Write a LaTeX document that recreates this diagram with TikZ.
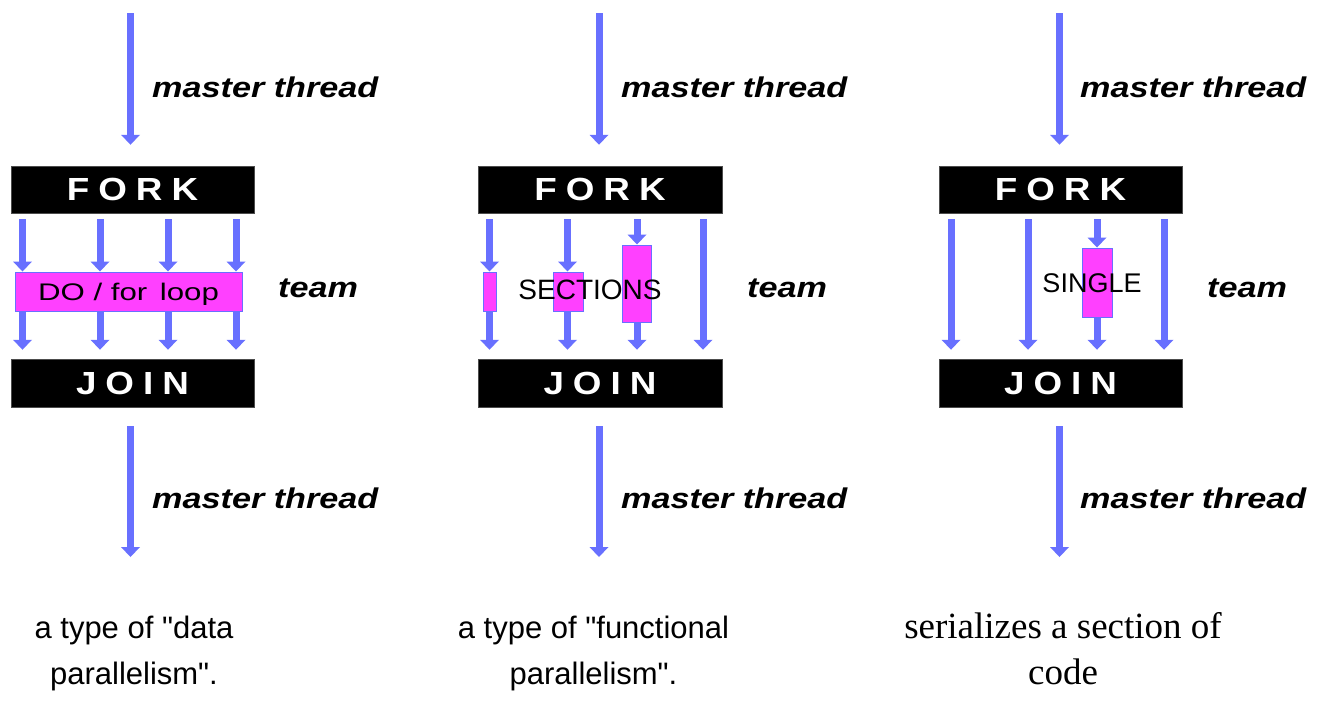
\documentclass[tikz,border=0pt]{standalone}
\usepackage{fontspec}
\setmainfont{Liberation Serif}
\setsansfont{Liberation Sans}
\newfontfamily\capfont{Liberation Sans}
\newfontfamily\lblfont[FakeStretch=1.2]{Liberation Sans}
\newfontfamily\forkfont[FakeStretch=1.15]{Liberation Sans}
\newfontfamily\dofont[FakeStretch=1.3]{Liberation Sans}
\usetikzlibrary{arrows.meta}
\definecolor{thrblue}{RGB}{104,112,255}
\definecolor{secmag}{RGB}{255,64,255}
\newcommand{\gap}{\hspace{9pt}}
\begin{document}
\begin{tikzpicture}[x=1pt,y=-1pt,
  thr/.style={draw=thrblue,line width=7pt,-{Triangle[width=19pt,length=10pt,line width=0pt]}},
  forkbox/.style={fill=black,draw=black!70,line width=0.5pt,text=white,minimum width=243pt,minimum height=47pt,inner sep=0pt,font=\fontsize{32}{32}\selectfont\forkfont\bfseries},
  workbox/.style={fill=secmag,draw=thrblue,line width=1pt,inner sep=0pt},
  mlabel/.style={font=\fontsize{28.5}{30}\selectfont\lblfont\bfseries\itshape,anchor=base west,inner sep=0pt},
  caption/.style={font=\fontsize{31}{46}\selectfont\capfont,align=center,anchor=north,inner sep=0pt},
  sercap/.style={font=\fontsize{37}{46}\selectfont\rmfamily,align=center,anchor=north,inner sep=0pt},
  sectext/.style={font=\fontsize{28}{30}\selectfont\sffamily,inner sep=0pt}
]
\fill[white] (0,0) rectangle (1318,704);
\useasboundingbox (0,0) rectangle (1318,704);

% ---------------- Panel 1 ----------------
\node[forkbox] (fork1) at (132.5,189.5) {F\gap O\gap R\gap K};
\node[forkbox,minimum height=48pt] (join1) at (132.5,383) {J\gap O\gap I\gap N};
\node[workbox,minimum width=227pt,minimum height=39pt,text depth=0pt,font=\fontsize{24}{26}\selectfont\dofont] (do1) at (128.5,291.5) {DO / for\, loop};
\coordinate (c11) at (22.5,0);
\coordinate (c12) at (100,0);
\coordinate (c13) at (168,0);
\coordinate (c14) at (236,0);
\foreach \c in {c11,c12,c13,c14}{
  \draw[thr,shorten <=6pt] (fork1.south -| \c) -- (do1.north -| \c);
  \draw[thr,shorten >=9pt] (do1.south -| \c) -- (join1.north -| \c);
}
\coordinate (mt1) at (130.5,13);
\coordinate (mb1) at (130.5,557);
\draw[thr,shorten >=21pt] (mt1) -- (fork1.north -| mt1);
\draw[thr,shorten <=19pt] (join1.south -| mb1) -- (mb1);
\node[mlabel] (mtl1) at (152,97) {master thread};
\node[mlabel] (mbl1) at (152,508) {master thread};
\node[mlabel] (team1) at (278,297) {team};
\node[caption] (cap1) at (134,615.5) {a type of "data\\parallelism".};

% ---------------- Panel 2 ----------------
\node[forkbox,minimum width=244pt] (fork2) at (600,189.5) {F\gap O\gap R\gap K};
\node[forkbox,minimum width=244pt,minimum height=48pt] (join2) at (600,383) {J\gap O\gap I\gap N};
\node[workbox,minimum width=13pt,minimum height=39pt] (sa) at (489.5,291.5) {};
\node[workbox,minimum width=30pt,minimum height=39pt] (sb) at (568,291.5) {};
\node[workbox,minimum width=29pt,minimum height=77pt] (sc) at (636.5,283.5) {};
\coordinate (c21) at (489.5,0);
\coordinate (c22) at (567.5,0);
\coordinate (c23) at (637,0);
\coordinate (c24) at (703,0);
\draw[thr,shorten <=6pt] (fork2.south -| c21) -- (sa.north -| c21);
\draw[thr,shorten >=9pt] (sa.south -| c21) -- (join2.north -| c21);
\draw[thr,shorten <=6pt] (fork2.south -| c22) -- (sb.north -| c22);
\draw[thr,shorten >=9pt] (sb.south -| c22) -- (join2.north -| c22);
\draw[thr,shorten <=6pt] (fork2.south -| c23) -- (sc.north -| c23);
\draw[thr,shorten >=9pt] (sc.south -| c23) -- (join2.north -| c23);
\draw[thr,shorten <=6pt,shorten >=9pt] (fork2.south -| c24) -- (join2.north -| c24);
\node[sectext] (sections) at (590,290) {SECTIONS};
\coordinate (mt2) at (599,13);
\coordinate (mb2) at (599,557);
\draw[thr,shorten >=21pt] (mt2) -- (fork2.north -| mt2);
\draw[thr,shorten <=19pt] (join2.south -| mb2) -- (mb2);
\node[mlabel] (mtl2) at (621,97) {master thread};
\node[mlabel] (mbl2) at (621,508) {master thread};
\node[mlabel] (team2) at (747,297) {team};
\node[caption] (cap2) at (593.5,615.5) {a type of "functional\\parallelism".};

% ---------------- Panel 3 ----------------
\node[forkbox] (fork3) at (1060.5,189.5) {F\gap O\gap R\gap K};
\node[forkbox,minimum height=48pt] (join3) at (1060.5,383) {J\gap O\gap I\gap N};
\node[workbox,minimum width=30pt,minimum height=69pt] (s3) at (1097,282.5) {};
\coordinate (c31) at (951,0);
\coordinate (c32) at (1028,0);
\coordinate (c33) at (1097,0);
\coordinate (c34) at (1164,0);
\draw[thr,shorten <=6pt,shorten >=9pt] (fork3.south -| c31) -- (join3.north -| c31);
\draw[thr,shorten <=6pt,shorten >=9pt] (fork3.south -| c32) -- (join3.north -| c32);
\draw[thr,shorten <=6pt] (fork3.south -| c33) -- (s3.north -| c33);
\draw[thr,shorten >=9pt] (s3.south -| c33) -- (join3.north -| c33);
\draw[thr,shorten <=6pt,shorten >=9pt] (fork3.south -| c34) -- (join3.north -| c34);
\node[sectext,font=\fontsize{27}{30}\selectfont\sffamily] (single) at (1092,283) {SINGLE};
\coordinate (mt3) at (1059.5,13);
\coordinate (mb3) at (1059.5,557);
\draw[thr,shorten >=21pt] (mt3) -- (fork3.north -| mt3);
\draw[thr,shorten <=19pt] (join3.south -| mb3) -- (mb3);
\node[mlabel] (mtl3) at (1080,97) {master thread};
\node[mlabel] (mbl3) at (1080,508) {master thread};
\node[mlabel] (team3) at (1207,297) {team};
\node[sercap] (cap3) at (1063,612.7) {serializes a section of\\code};
\end{tikzpicture}
\end{document}
